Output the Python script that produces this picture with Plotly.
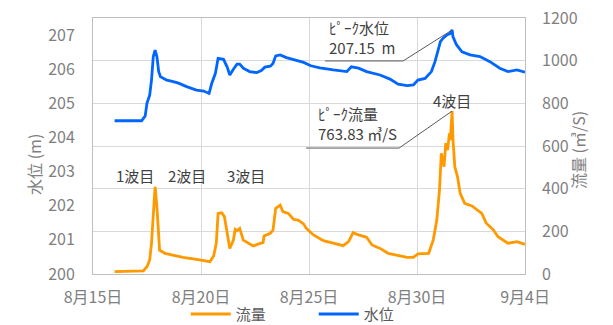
import plotly.graph_objects as go

# Water level (m) at the gauging station, left axis
level_time = [
    "2021-08-16 00:00", "2021-08-17 06:00", "2021-08-17 10:00", "2021-08-17 12:00",
    "2021-08-17 15:00", "2021-08-17 17:00", "2021-08-17 19:00", "2021-08-17 21:00",
    "2021-08-17 23:00", "2021-08-18 01:00", "2021-08-18 03:00", "2021-08-18 10:00",
    "2021-08-18 15:00", "2021-08-18 23:00", "2021-08-19 08:00", "2021-08-19 19:00",
    "2021-08-20 03:00", "2021-08-20 09:00", "2021-08-20 12:00", "2021-08-20 16:00",
    "2021-08-20 19:00", "2021-08-21 01:00", "2021-08-21 05:00", "2021-08-21 08:00",
    "2021-08-21 12:00", "2021-08-21 16:00", "2021-08-21 19:00", "2021-08-21 23:00",
    "2021-08-22 06:00", "2021-08-22 14:00", "2021-08-22 19:00", "2021-08-22 23:00",
    "2021-08-23 05:00", "2021-08-23 08:00", "2021-08-23 11:00", "2021-08-23 16:00",
    "2021-08-23 23:00", "2021-08-24 10:00", "2021-08-24 18:00", "2021-08-25 02:00",
    "2021-08-25 12:00", "2021-08-26 03:00", "2021-08-26 18:00", "2021-08-26 23:00",
    "2021-08-27 07:00", "2021-08-27 16:00", "2021-08-28 07:00", "2021-08-28 18:00",
    "2021-08-29 03:00", "2021-08-29 13:00", "2021-08-29 20:00", "2021-08-30 01:00",
    "2021-08-30 09:00", "2021-08-30 16:00", "2021-08-30 20:00", "2021-08-31 00:00",
    "2021-08-31 02:00", "2021-08-31 05:00", "2021-08-31 09:00", "2021-08-31 13:00",
    "2021-08-31 15:00", "2021-08-31 16:00", "2021-08-31 20:00", "2021-09-01 02:00",
    "2021-09-01 11:00", "2021-09-01 22:00", "2021-09-02 09:00", "2021-09-02 20:00",
    "2021-09-03 05:00", "2021-09-03 15:00", "2021-09-04 00:00",
]
level_m = [
    204.49, 204.49, 204.63, 205.01,
    205.24, 205.68, 206.37, 206.56,
    206.37, 205.93, 205.78, 205.68,
    205.65, 205.59, 205.49, 205.39,
    205.36, 205.29, 205.59, 205.88,
    206.32, 206.29, 206.07, 205.83,
    206.00, 206.15, 206.15, 206.03,
    205.93, 205.90, 205.96, 206.06,
    206.09, 206.17, 206.39, 206.42,
    206.34, 206.27, 206.20, 206.10,
    206.04, 205.98, 205.93, 206.07,
    206.03, 205.93, 205.83, 205.71,
    205.56, 205.52, 205.54, 205.68,
    205.73, 205.93, 206.22, 206.61,
    206.81, 206.91, 207.00, 207.05,
    207.15, 206.95, 206.71, 206.51,
    206.42, 206.37, 206.22, 206.03,
    205.93, 205.98, 205.91,
]

# Discharge (m3/s), right axis
flow_time = [
    "2021-08-16 00:00", "2021-08-17 08:00", "2021-08-17 12:00", "2021-08-17 15:00",
    "2021-08-17 17:00", "2021-08-17 19:00", "2021-08-17 21:00", "2021-08-17 23:00",
    "2021-08-18 01:00", "2021-08-18 02:00", "2021-08-18 08:00", "2021-08-18 17:00",
    "2021-08-19 04:00", "2021-08-19 19:00", "2021-08-20 10:00", "2021-08-20 14:00",
    "2021-08-20 17:00", "2021-08-20 19:00", "2021-08-20 23:00", "2021-08-21 02:00",
    "2021-08-21 05:00", "2021-08-21 08:00", "2021-08-21 12:00", "2021-08-21 14:00",
    "2021-08-21 16:00", "2021-08-21 19:00", "2021-08-21 23:00", "2021-08-22 05:00",
    "2021-08-22 10:00", "2021-08-22 16:00", "2021-08-22 21:00", "2021-08-22 22:00",
    "2021-08-23 01:00", "2021-08-23 05:00", "2021-08-23 08:00", "2021-08-23 11:00",
    "2021-08-23 16:00", "2021-08-23 19:00", "2021-08-24 01:00", "2021-08-24 07:00",
    "2021-08-24 12:00", "2021-08-24 18:00", "2021-08-24 21:00", "2021-08-25 05:00",
    "2021-08-25 16:00", "2021-08-26 03:00", "2021-08-26 14:00", "2021-08-26 20:00",
    "2021-08-27 01:00", "2021-08-27 07:00", "2021-08-27 16:00", "2021-08-27 22:00",
    "2021-08-28 07:00", "2021-08-28 16:00", "2021-08-29 01:00", "2021-08-29 13:00",
    "2021-08-29 20:00", "2021-08-30 01:00", "2021-08-30 13:00", "2021-08-30 18:00",
    "2021-08-30 22:00", "2021-08-31 01:00", "2021-08-31 03:00", "2021-08-31 06:00",
    "2021-08-31 08:00", "2021-08-31 10:00", "2021-08-31 12:00", "2021-08-31 13:00",
    "2021-08-31 15:00", "2021-08-31 16:00", "2021-08-31 18:00", "2021-08-31 21:00",
    "2021-09-01 00:00", "2021-09-01 05:00", "2021-09-01 13:00", "2021-09-01 18:00",
    "2021-09-02 00:00", "2021-09-02 05:00", "2021-09-02 13:00", "2021-09-02 18:00",
    "2021-09-03 00:00", "2021-09-03 05:00", "2021-09-03 15:00", "2021-09-04 00:00",
]
flow_m3s = [
    11, 15, 34, 66,
    144, 300, 409, 316,
    159, 112, 97, 89,
    78, 69, 58, 84,
    144, 284, 287, 269,
    191, 120, 159, 209,
    203, 214, 159, 144,
    131, 141, 147, 178,
    183, 191, 206, 308,
    323, 292, 284, 256,
    253, 235, 214, 183,
    156, 144, 133, 152,
    194, 183, 172, 136,
    120, 97, 89, 78,
    78, 94, 97, 159,
    253, 394, 566, 503,
    613, 581, 659, 628,
    763.83, 628, 503, 456,
    378, 331, 319, 303,
    284, 238, 206, 175,
    159, 144, 152, 139,
]

# Axis ticks
date_ticks = ["2021-08-15", "2021-08-20", "2021-08-25", "2021-08-30", "2021-09-04"]
date_tick_labels = ["8月15日", "8月20日", "8月25日", "8月30日", "9月4日"]

# Flood wave labels placed above the first three waves
wave_labels = ["1波目", "2波目", "3波目"]
wave_label_time = ["2021-08-16 23:00", "2021-08-19 08:00", "2021-08-22 02:00"]
wave_label_flow = 464

ORANGE = "#FF9900"
BLUE = "#0066FF"
GRID = "#D9D9D9"
FRAME = "#BFBFBF"
TICK = "#7F7F7F"
TEXT = "#404040"
FONT = "Noto Sans CJK JP"

fig = go.Figure()
fig.add_trace(go.Scatter(
    x=flow_time, y=flow_m3s, name="流量", yaxis="y2", mode="lines",
    line=dict(color=ORANGE, width=2.8),
))
fig.add_trace(go.Scatter(
    x=level_time, y=level_m, name="水位", yaxis="y", mode="lines",
    line=dict(color=BLUE, width=2.8),
))

# peak points
i_lv = level_m.index(max(level_m))
i_fl = flow_m3s.index(max(flow_m3s))
peak_lv_t, peak_lv = level_time[i_lv], level_m[i_lv]
peak_fl_t, peak_fl = flow_time[i_fl], flow_m3s[i_fl]

annotations = []
for txt, t in zip(wave_labels, wave_label_time):
    annotations.append(dict(
        x=t, y=wave_label_flow, xref="x", yref="y2", text=txt, showarrow=False,
        font=dict(family=FONT, size=15, color=TEXT),
    ))
annotations.append(dict(
    x=peak_fl_t, y=peak_fl, xref="x", yref="y2", text="4波目", showarrow=False,
    yanchor="bottom", yshift=-2, font=dict(family=FONT, size=15, color=TEXT),
))

# callout labels for the peaks
annotations.append(dict(
    x=peak_lv_t, y=peak_lv, xref="x", yref="y", showarrow=False,
    text="ﾋﾟｰｸ水位<br>%.2f\u00a0\u00a0m" % peak_lv, align="left",
    xanchor="right", yanchor="bottom", xshift=-55, yshift=-30,
    font=dict(family=FONT, size=15, color=TEXT),
))
annotations.append(dict(
    x=peak_fl_t, y=peak_fl, xref="x", yref="y2", showarrow=False,
    text="ﾋﾟｰｸ流量<br>%.2f ㎥/S" % peak_fl, align="left",
    xanchor="right", yanchor="bottom", xshift=-53, yshift=-35,
    font=dict(family=FONT, size=15, color=TEXT),
))

# axis titles
annotations.append(dict(
    x=-0.169, y=0.43, xref="paper", yref="paper", text="水位 (m)", textangle=-90,
    showarrow=False, font=dict(family=FONT, size=16, color=TICK),
))
annotations.append(dict(
    x=1.155, y=0.484, xref="paper", yref="paper", text="流量 (㎥/S)", textangle=-90,
    showarrow=False, font=dict(family=FONT, size=16, color=TICK),
))

# leader lines with underline, anchored at the peaks
shapes = [
    dict(type="path", xref="x", yref="y", xsizemode="pixel", ysizemode="pixel",
         xanchor=peak_lv_t, yanchor=peak_lv,
         path="M0,0 L-49,-31 L-127,-31", line=dict(color="#595959", width=1)),
    dict(type="path", xref="x", yref="y2", xsizemode="pixel", ysizemode="pixel",
         xanchor=peak_fl_t, yanchor=peak_fl,
         path="M0,0 L-53,-37 L-146,-37", line=dict(color="#595959", width=1)),
]

fig.update_layout(
    width=613, height=325,
    margin=dict(l=93, r=88, t=18, b=51, autoexpand=False),
    paper_bgcolor="white", plot_bgcolor="white",
    font=dict(family=FONT, size=16, color=TICK),
    xaxis=dict(
        type="date", range=["2021-08-15", "2021-09-04"],
        tickvals=date_ticks, ticktext=date_tick_labels,
        showgrid=True, gridcolor=GRID, gridwidth=1,
        showline=True, linecolor=FRAME, linewidth=1, mirror=True,
        ticks="", ticklabelstandoff=9, tickfont=dict(size=16, color=TICK),
    ),
    yaxis=dict(
        range=[200, 207.5], dtick=1, showgrid=False, zeroline=False,
        showline=True, linecolor=FRAME, linewidth=1, mirror=True,
        ticks="", ticklabelstandoff=14, tickfont=dict(size=16, color=TICK),
    ),
    yaxis2=dict(
        overlaying="y", side="right", range=[0, 1200], dtick=200,
        showgrid=True, gridcolor=GRID, gridwidth=1, zeroline=False,
        ticks="", ticklabelstandoff=16, tickfont=dict(size=16, color=TICK),
    ),
    legend=dict(
        orientation="h", xref="container", yref="container",
        x=0.303, y=0.033, xanchor="left", yanchor="middle",
        bgcolor="rgba(0,0,0,0)",
        font=dict(family=FONT, size=15, color="#595959"),
        itemwidth=40, entrywidth=73, entrywidthmode="pixels",
    ),
    annotations=annotations,
    shapes=shapes,
)

fig.write_html("out.html")
